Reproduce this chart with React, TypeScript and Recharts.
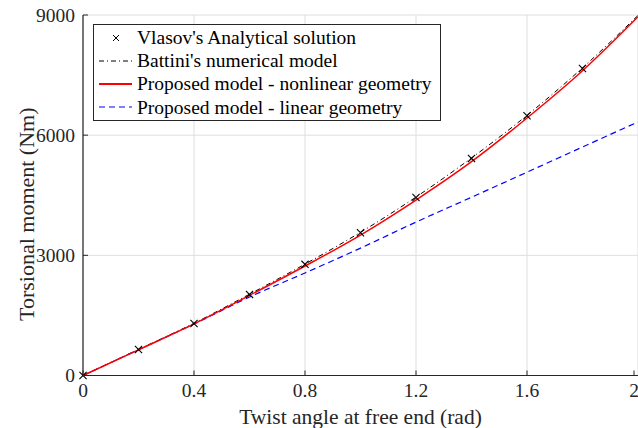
import React from "react";
import { LineChart, Line, XAxis, YAxis, CartesianGrid, Legend, Label } from "recharts";

// twist angle at free end (rad)
const twist = [0, 0.2, 0.4, 0.6, 0.8, 1.0, 1.2, 1.4, 1.6, 1.8, 2.0];
// torsional moment (Nm)
const vlasov = [0, 650, 1300, 2025, 2775, 3565, 4445, 5420, 6485, 7665];
const battini = [0, 650, 1305, 2030, 2780, 3575, 4455, 5430, 6495, 7680, 8990];
const nonlinear = [0, 640, 1290, 2000, 2733, 3507, 4381, 5337, 6428, 7609, 8957];
const linear = [0, 645, 1285, 1960, 2560, 3180, 3830, 4450, 5075, 5705, 6330];

const xTicks = [0, 0.4, 0.8, 1.2, 1.6, 2];
const yTicks = [0, 3000, 6000, 9000];

const seriesNames = [
  "Vlasov's Analytical solution",
  "Battini's numerical model",
  "Proposed model - nonlinear geometry",
  "Proposed model - linear geometry",
];

const data = twist.map((x, i) => ({
  x,
  vlasov: vlasov[i] ?? null,
  battini: battini[i] ?? null,
  nonlinear: nonlinear[i] ?? null,
  linear: linear[i] ?? null,
}));

const FONT = '"Liberation Serif", "Times New Roman", serif';
const INK = "#262626";
const TICK_LEN = 5;
const X_MARGIN = 8;
const Y_MARGIN = 8;

const BottomTick = (props: any) => {
  const { x, y, payload } = props;
  const axisY = y - X_MARGIN;
  return (
    <g>
      <line x1={x} y1={axisY} x2={x} y2={axisY - TICK_LEN} stroke={INK} />
      <text x={x} y={y} dy="0.71em" textAnchor="middle" fill={INK} fontSize={19.5} fontFamily={FONT}>
        {String(payload.value)}
      </text>
    </g>
  );
};

const LeftTick = (props: any) => {
  const { x, y, payload } = props;
  const axisX = x + Y_MARGIN;
  return (
    <g>
      <line x1={axisX} y1={y} x2={axisX + TICK_LEN} y2={y} stroke={INK} />
      <text x={x} y={y} dy="0.355em" textAnchor="end" fill={INK} fontSize={19.5} fontFamily={FONT}>
        {String(payload.value)}
      </text>
    </g>
  );
};

const TopTick = (props: any) => {
  const { x, y } = props;
  return <line x1={x} y1={y} x2={x} y2={y + TICK_LEN} stroke={INK} />;
};

const RightTick = (props: any) => {
  const { x, y } = props;
  return <line x1={x} y1={y} x2={x - TICK_LEN} y2={y} stroke={INK} />;
};

const Cross = (props: any) => {
  const { cx, cy, value, index } = props;
  if (value == null || cx == null || cy == null) return <g key={`c${index}`} />;
  const s = 3.6;
  return (
    <path
      key={`c${index}`}
      d={`M${cx - s},${cy - s}L${cx + s},${cy + s}M${cx - s},${cy + s}L${cx + s},${cy - s}`}
      stroke="#000"
      strokeWidth={1.1}
      fill="none"
    />
  );
};

const legendSamples = [
  <path d="M14,-3L20,3M14,3L20,-3" stroke="#000" strokeWidth={1} />,
  <line x1={0} y1={0} x2={33} y2={0} stroke="#000" strokeWidth={1} strokeDasharray="5 3 1 3" />,
  <line x1={0} y1={0} x2={33} y2={0} stroke="#ff0000" strokeWidth={2} />,
  <line x1={0} y1={0} x2={33} y2={0} stroke="#0000ff" strokeWidth={1.2} strokeDasharray="6 4" />,
];

const renderLegend = () => (
  <div
    style={{
      border: `1px solid ${INK}`,
      background: "#fff",
      padding: "1px 8px 1px 5px",
      fontFamily: FONT,
      fontSize: 19.5,
      color: "#000",
      lineHeight: "23.2px",
      whiteSpace: "nowrap",
    }}
  >
    {seriesNames.map((name, i) => (
      <div key={name} style={{ display: "flex", alignItems: "center", height: 23.2 }}>
        <svg width={36} height={12} viewBox="0 -6 36 12" style={{ marginRight: 2 }}>
          {legendSamples[i]}
        </svg>
        <span>{name}</span>
      </div>
    ))}
  </div>
);

export default function App() {
  return (
    <div style={{ position: "absolute", left: 0, top: 0, width: 638, height: 428, background: "#fff" }}>
      <LineChart
        width={638}
        height={428}
        data={data}
        margin={{ top: 15, right: 0, bottom: 0, left: 0 }}
        style={{ fontFamily: FONT }}
      >
        <CartesianGrid stroke="#dedede" strokeWidth={1} />
        <XAxis
          dataKey="x"
          type="number"
          domain={[0, 2]}
          ticks={xTicks}
          height={52.5}
          tickSize={0}
          tickMargin={X_MARGIN}
          tick={<BottomTick />}
          axisLine={{ stroke: INK, strokeWidth: 1.2 }}
          tickLine={false}
        >
          <Label
            value="Twist angle at free end (rad)"
            position="insideBottom"
            offset={4}
            fill={INK}
            fontSize={21.5}
            fontFamily={FONT}
          />
        </XAxis>
        <XAxis
          xAxisId="top"
          orientation="top"
          dataKey="x"
          type="number"
          domain={[0, 2]}
          ticks={xTicks}
          height={0}
          tickSize={0}
          tickMargin={0}
          tick={<TopTick />}
          axisLine={{ stroke: INK, strokeWidth: 1.2 }}
          tickLine={false}
        />
        <YAxis
          type="number"
          domain={[0, 9000]}
          ticks={yTicks}
          width={83}
          tickSize={0}
          tickMargin={Y_MARGIN}
          tick={<LeftTick />}
          axisLine={{ stroke: INK, strokeWidth: 1.2 }}
          tickLine={false}
        >
          <Label
            content={(p: any) => {
              const vb = p.viewBox || {};
              const cx = 26;
              const cy = vb.y + vb.height / 2 + 19;
              return (
                <text
                  x={cx}
                  y={cy}
                  transform={`rotate(-90, ${cx}, ${cy})`}
                  textAnchor="middle"
                  dominantBaseline="central"
                  fill={INK}
                  fontSize={22}
                  fontFamily={FONT}
                >
                  Torsional moment (Nm)
                </text>
              );
            }}
          />
        </YAxis>
        <YAxis
          yAxisId="right"
          orientation="right"
          type="number"
          domain={[0, 9000]}
          ticks={yTicks}
          width={0}
          tickSize={0}
          tickMargin={0}
          tick={<RightTick />}
          axisLine={false}
          tickLine={false}
        />
        <Legend
          layout="vertical"
          align="center"
          verticalAlign="middle"
          content={renderLegend}
          wrapperStyle={{ left: 93, top: 24, width: "auto" }}
        />
        <Line
          dataKey="linear"
          name={seriesNames[3]}
          type="monotone"
          stroke="#0000ff"
          strokeWidth={1.2}
          strokeDasharray="6 4"
          dot={false}
          isAnimationActive={false}
        />
        <Line
          dataKey="battini"
          name={seriesNames[1]}
          type="monotone"
          stroke="#000"
          strokeWidth={1}
          strokeDasharray="5 3 1 3"
          dot={false}
          isAnimationActive={false}
        />
        <Line
          dataKey="nonlinear"
          name={seriesNames[2]}
          type="monotone"
          stroke="#ff0000"
          strokeWidth={1.5}
          dot={false}
          isAnimationActive={false}
        />
        <Line
          dataKey="vlasov"
          name={seriesNames[0]}
          stroke="none"
          dot={<Cross />}
          activeDot={false}
          isAnimationActive={false}
        />
      </LineChart>
    </div>
  );
}
